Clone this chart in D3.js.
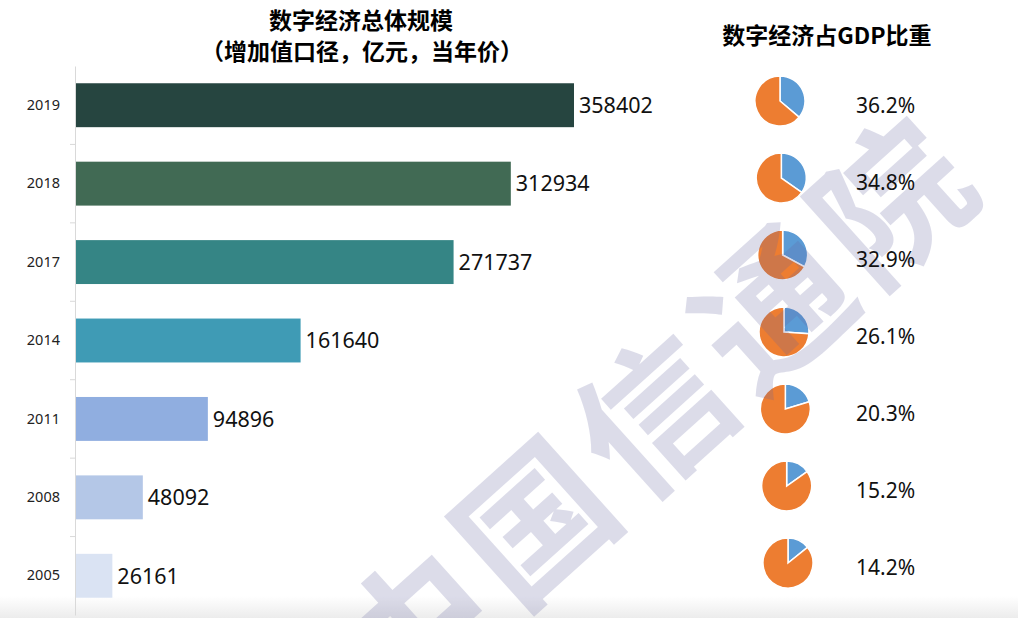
<!DOCTYPE html>
<html>
<head>
<meta charset="utf-8">
<script src="https://cdn.jsdelivr.net/npm/d3@7"></script>
<style>
  body { margin: 0; background: #fff; }
  svg { display: block; }
</style>
</head>
<body>
<div id="root"></div>
<script>
const years = ['2019', '2018', '2017', '2014', '2011', '2008', '2005'];
const scale = [358402, 312934, 271737, 161640, 94896, 48092, 26161];
const gdpShare = [36.2, 34.8, 32.9, 26.1, 20.3, 15.2, 14.2];
const barColors = ['#264540', '#416a54', '#358585', '#3f9bb5', '#90aee0', '#b4c7e7', '#dae3f3'];

const w = 1018;
const h = 618;

const svg = d3.select('#root')
  .append('svg')
  .attr('width', w)
  .attr('height', h);

// bottom shadow band
const grad = svg.append('defs').append('linearGradient')
  .attr('id', 'shade').attr('x1', 0).attr('x2', 0).attr('y1', 0).attr('y2', 1);
grad.append('stop').attr('offset', 0).attr('stop-color', '#fff');
grad.append('stop').attr('offset', 1).attr('stop-color', '#ececec');
svg.append('rect')
  .attr('x', 0).attr('y', 596).attr('width', w).attr('height', 22)
  .attr('fill', 'url(#shade)');

const y = d3.scaleBand()
  .domain(years)
  .range([66, 615])
  .paddingInner(0.44)
  .paddingOuter(0.22);

const x = d3.scaleLinear()
  .domain([0, 358402])
  .range([76, 574]);

// titles
const cjk = '"Noto Sans CJK SC", "Noto Sans", sans-serif';
svg.append('text')
  .attr('x', 361).attr('y', 29)
  .attr('text-anchor', 'middle')
  .attr('font-family', cjk).attr('font-weight', 'bold').attr('font-size', '23px')
  .text('数字经济总体规模');
svg.append('text')
  .attr('x', 362).attr('y', 60)
  .attr('text-anchor', 'middle')
  .attr('font-family', cjk).attr('font-weight', 'bold').attr('font-size', '23px')
  .text('（增加值口径，亿元，当年价）');
svg.append('text')
  .attr('x', 827).attr('y', 44)
  .attr('text-anchor', 'middle')
  .attr('font-family', cjk).attr('font-weight', 'bold').attr('font-size', '23px')
  .text('数字经济占GDP比重');

// axis
const axis = svg.append('g')
  .attr('transform', 'translate(75,0)')
  .call(d3.axisLeft(y).tickSize(0).tickPadding(15));
axis.select('.domain').attr('stroke', '#d9d9d9');
axis.selectAll('text')
  .attr('font-family', '"Noto Sans", sans-serif')
  .attr('font-size', '14.5px')
  .attr('fill', '#222');
const step = y.step();
svg.selectAll('.band-tick')
  .data(years.slice(1))
  .enter()
  .append('line')
  .attr('x1', 70).attr('x2', 75)
  .attr('y1', d => y(d) - step * y.paddingInner() / 2)
  .attr('y2', d => y(d) - step * y.paddingInner() / 2)
  .attr('stroke', '#d9d9d9');

// bars
svg.selectAll('rect.bar')
  .data(scale)
  .enter()
  .append('rect')
  .attr('class', 'bar')
  .attr('x', x(0))
  .attr('y', (d, i) => y(years[i]))
  .attr('width', d => x(d) - x(0))
  .attr('height', y.bandwidth())
  .attr('fill', (d, i) => barColors[i]);

svg.selectAll('text.val')
  .data(scale)
  .enter()
  .append('text')
  .attr('class', 'val')
  .attr('x', d => x(d) + 5)
  .attr('y', (d, i) => y(years[i]) + y.bandwidth() / 2)
  .attr('dy', '0.36em')
  .attr('font-family', '"Noto Sans", sans-serif')
  .attr('font-size', '21.5px')
  .attr('fill', '#111')
  .text(d => d);

// pies
const py = d3.scalePoint()
  .domain(years)
  .range([101, 563]);
const px = d3.scaleLinear()
  .domain([0, years.length - 1])
  .range([780, 788]);
const pie = d3.pie().sort(null).value(d => d);
const arc = d3.arc().innerRadius(0).outerRadius(25);

gdpShare.forEach((s, i) => {
  const g = svg.append('g')
    .attr('transform', 'translate(' + px(i) + ',' + py(years[i]) + ')');
  g.selectAll('path')
    .data(pie([s, 100 - s]))
    .enter()
    .append('path')
    .attr('d', arc)
    .attr('fill', (d, j) => j === 0 ? '#5b9bd5' : '#ed7d31')
    .attr('stroke', '#fff')
    .attr('stroke-width', 1.5);
});

// watermark
svg.append('text')
  .attr('transform', 'translate(660,415) rotate(-42)')
  .attr('text-anchor', 'middle')
  .attr('dy', '0.35em')
  .attr('font-family', cjk)
  .attr('font-weight', 'bold')
  .attr('font-size', '150px')
  .attr('letter-spacing', '10px')
  .attr('fill', 'rgb(100,100,160)')
  .attr('opacity', 0.22)
  .text('中国信通院');

svg.selectAll('text.pct')
  .data(gdpShare)
  .enter()
  .append('text')
  .attr('class', 'pct')
  .attr('x', 856)
  .attr('y', (d, i) => py(years[i]) + 4)
  .attr('dy', '0.36em')
  .attr('font-family', '"Noto Sans", sans-serif')
  .attr('font-size', '21px')
  .attr('fill', '#111')
  .text(d => d.toFixed(1) + '%');
</script>
</body>
</html>
